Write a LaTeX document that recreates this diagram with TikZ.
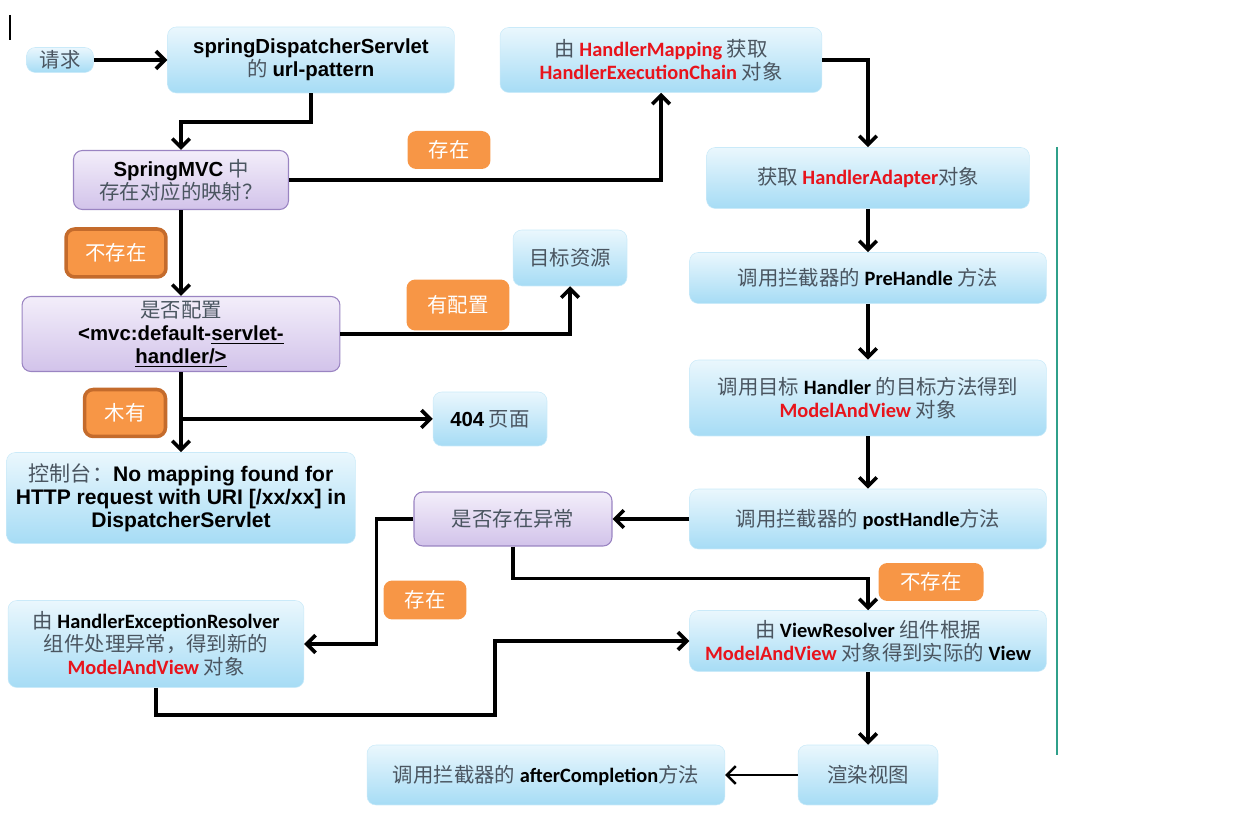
\documentclass[tikz,border=0pt]{standalone}
\usepackage{fontspec}
\setmainfont{Carlito}
\newfontfamily\arialf{Liberation Sans}
\newfontfamily\cjk{Noto Sans CJK SC}
\usetikzlibrary{arrows.meta}

\definecolor{boxtop}{HTML}{EAF7FD}
\definecolor{boxbot}{HTML}{A6DCF5}
\definecolor{purtop}{HTML}{F3EEFA}
\definecolor{purbot}{HTML}{D2C3EA}
\definecolor{purline}{HTML}{9A84C2}
\definecolor{tagfill}{HTML}{F79646}
\definecolor{tagline}{HTML}{C46B2C}
\definecolor{hired}{HTML}{E8141C}
\definecolor{zhgray}{HTML}{4A5560}
\definecolor{edgeteal}{HTML}{2FA08A}

\newcommand{\zh}[1]{{\cjk\mdseries\color{zhgray}#1}}
\newcommand{\hl}[1]{{\bfseries\color{hired}#1}}
\newcommand{\ar}[1]{{\arialf\bfseries #1}}

\begin{document}
\begin{tikzpicture}[
    x=0.02cm, y=-0.02cm,
    blue/.style={draw=boxbot!60!white, line width=0.3pt, rounded corners=5pt,
      top color=boxtop, bottom color=boxbot, inner sep=0pt, align=center,
      font=\fontsize{11.6}{13}\selectfont\bfseries},
    purple/.style={blue, draw=purline, line width=0.6pt, top color=purtop, bottom color=purbot},
    tag/.style={fill=tagfill, rounded corners=5pt, inner sep=0pt, text=white,
      font=\cjk\fontsize{11.6}{13}\selectfont},
    tagb/.style={tag, draw=tagline, line width=2pt},
    conn/.style={line width=2.1pt, -{Straight Barb[length=5pt,width=10pt]}},
  ]
    \useasboundingbox (0,0) rectangle (1258,837);

    % slide edges
    \draw[line width=0.8pt] (10,15) -- (10,40);
    \draw[edgeteal, line width=0.8pt] (1057,147) -- (1057,755);

    % left column
    \node[blue, minimum width=1.34cm, minimum height=0.5cm] (req) at (60,60) {\zh{请求}};
    \node[blue, minimum width=5.74cm, minimum height=1.32cm] (dsp) at (311,60)
      {\ar{springDispatcherServlet}\\ \zh{的} \ar{url-pattern}};
    \node[purple, minimum width=4.3cm, minimum height=1.18cm] (mvc) at (181,180)
      {\ar{SpringMVC} \zh{中}\\ \zh{存在对应的映射？}};
    \node[purple, minimum width=6.36cm, minimum height=1.5cm] (cfg) at (181,334)
      {\zh{是否配置}\\ \ar{<mvc:default-\underline{servlet-}}\\ \ar{\underline{handler/>}}};
    \node[blue, minimum width=6.98cm, minimum height=1.82cm, font=\fontsize{12}{13.2}\selectfont\bfseries] (cons) at (181,498)
      {\zh{控制台：}\ar{No mapping found for}\\ \ar{HTTP request with URI [/xx/xx] in}\\ \ar{DispatcherServlet}};
    \node[blue, minimum width=5.92cm, minimum height=1.74cm] (her) at (156,644)
      {\zh{由} HandlerExceptionResolver\\ \zh{组件处理异常，得到新的}\\ \hl{ModelAndView} \zh{对象}};

    % middle
    \node[blue, minimum width=6.44cm, minimum height=1.3cm] (hmap) at (661,60)
      {\zh{由} \hl{HandlerMapping} \zh{获取}\\ \hl{HandlerExecutionChain} \zh{对象}};
    \node[blue, minimum width=2.28cm, minimum height=1.12cm] (tgt) at (570,258) {\zh{目标资源}};
    \node[blue, minimum width=2.28cm, minimum height=1.08cm] (p404) at (490,419) {\ar{404} \zh{页面}};
    \node[purple, minimum width=3.96cm, minimum height=1.08cm] (exc) at (513,519) {\zh{是否存在异常}};
    \node[blue, minimum width=7.16cm, minimum height=1.2cm] (aft) at (546,775)
      {\zh{调用拦截器的} afterCompletion\zh{方法}};

    % right column
    \node[blue, minimum width=6.46cm, minimum height=1.22cm] (hadp) at (868,178)
      {\zh{获取} \hl{HandlerAdapter}\zh{对象}};
    \node[blue, minimum width=7.14cm, minimum height=1.02cm] (pre) at (868,278)
      {\zh{调用拦截器的} PreHandle \zh{方法}};
    \node[blue, minimum width=7.14cm, minimum height=1.52cm] (hdl) at (868,398)
      {\zh{调用目标} Handler \zh{的目标方法得到}\\ \hl{ModelAndView} \zh{对象}};
    \node[blue, minimum width=7.14cm, minimum height=1.2cm] (post) at (868,519)
      {\zh{调用拦截器的} postHandle\zh{方法}};
    \node[blue, minimum width=7.14cm, minimum height=1.22cm] (vr) at (868,641)
      {\zh{由} ViewResolver \zh{组件根据}\\ \hl{ModelAndView} \zh{对象得到实际的} View};
    \node[blue, minimum width=2.8cm, minimum height=1.2cm] (rnd) at (868,775) {\zh{渲染视图}};

    % branch labels
    \node[tag, minimum width=1.66cm, minimum height=0.76cm] (yes1) at (449,150) {存在};
    \node[tagb, minimum width=2.0cm, minimum height=0.96cm] (no1) at (116,253) {不存在};
    \node[tag, minimum width=2.06cm, minimum height=1.02cm] (cfgyes) at (458,305) {有配置};
    \node[tagb, minimum width=1.62cm, minimum height=0.94cm] (cfgno) at (125,413) {木有};
    \node[tag, minimum width=1.66cm, minimum height=0.78cm] (yes2) at (425,600) {存在};
    \node[tag, minimum width=2.1cm, minimum height=0.76cm] (no2) at (931,582) {不存在};

    % connectors
    \draw[conn] (req) -- (dsp);
    \draw[conn] (dsp.south) -- ++(0,29) -| (mvc.north);
    \draw[conn] (mvc.east) -| (hmap.south);
    \draw[conn] (hmap.east) -| (hadp.north);
    \draw[conn] (hadp) -- (pre);
    \draw[conn] (pre) -- (hdl);
    \draw[conn] (hdl) -- (post);
    \draw[conn] (mvc) -- (cfg);
    \draw[conn] (cfg.east) -| (tgt.south);
    \draw[conn] (cfg) -- (cons);
    \draw[conn] (cfg.south |- p404) -- (p404.west);
    \draw[conn] (post) -- (exc);
    \draw[conn] (exc.west) -- ++(-37,0) |- (her.east);
    \draw[conn] (exc.south) -- ++(0,32) -| (vr.north);
    \draw[conn] (her.south) -- ++(0,27) -- ++(339,0) |- (vr.west);
    \draw[conn] (vr) -- (rnd);
    \draw[conn, line width=1.4pt] (rnd) -- (aft);
  \end{tikzpicture}
\end{document}
